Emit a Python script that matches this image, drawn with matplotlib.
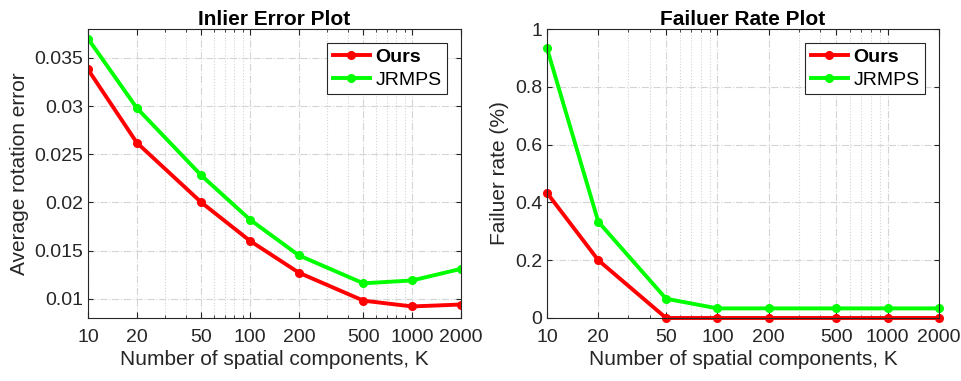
import matplotlib.pyplot as plt
from matplotlib.ticker import FixedLocator, NullFormatter, LogLocator

plt.rcParams['font.family'] = ['Liberation Sans', 'DejaVu Sans']

# data
K = [10, 20, 50, 100, 200, 500, 1000, 2000]
k_labels = ['10', '20', '50', '100', '200', '500', '1000', '2000']

err_ours = [0.0338, 0.0262, 0.0200, 0.0160, 0.0127, 0.0098, 0.0092, 0.0094]
err_jrmps = [0.0370, 0.0298, 0.0228, 0.0182, 0.0145, 0.0116, 0.0119, 0.0131]

fail_ours = [0.433, 0.200, 0.0, 0.0, 0.0, 0.0, 0.0, 0.0]
fail_jrmps = [0.933, 0.333, 0.0667, 0.0333, 0.0333, 0.0333, 0.0333, 0.0333]

red = '#ff0000'
green = '#00ff00'
txt = '#262626'

fig = plt.figure(figsize=(9.61, 3.81), dpi=100)
ax1 = fig.add_axes([88/961, 1 - 318/381, (461-88)/961, (318-29)/381])
ax2 = fig.add_axes([547/961, 1 - 318/381, (939-547)/961, (318-29)/381])


def style(ax, ylab, title):
    ax.set_xscale('log')
    ax.set_xlim(10, 2000)
    ax.xaxis.set_major_locator(FixedLocator(K))
    ax.set_xticklabels(k_labels)
    ax.xaxis.set_minor_locator(LogLocator(base=10, subs=range(2, 10)))
    ax.xaxis.set_minor_formatter(NullFormatter())
    ax.grid(True, which='major', color='#d4d4d4', linestyle='-.', linewidth=0.8)
    ax.grid(True, which='minor', axis='x', color='#d4d4d4', linestyle=':', linewidth=0.8)
    ax.set_axisbelow(True)
    ax.tick_params(which='both', direction='in', top=True, right=True,
                   labelsize=14, colors=txt, labelcolor=txt)
    ax.tick_params(axis='x', which='major', pad=8, length=4)
    ax.tick_params(axis='x', which='minor', length=2)
    for s in ax.spines.values():
        s.set_color(txt)
        s.set_linewidth(0.8)
    ax.set_xlabel('Number of spatial components, K', fontsize=15, color=txt, labelpad=3)
    ax.set_ylabel(ylab, fontsize=15, color=txt, labelpad=4)
    ax.set_title(title, fontsize=15, fontweight='bold', pad=3)


ax1.plot(K, err_ours, '-o', color=red, lw=2.8, ms=5.5, label='Ours')
ax1.plot(K, err_jrmps, '-o', color=green, lw=2.8, ms=5.5, label='JRMPS')
ax1.set_ylim(0.008, 0.038)
ax1.set_yticks([0.01, 0.015, 0.02, 0.025, 0.03, 0.035])
ax1.set_yticklabels(['0.01', '0.015', '0.02', '0.025', '0.03', '0.035'])
style(ax1, 'Average rotation error', 'Inlier Error Plot')

ax2.plot(K, fail_ours, '-o', color=red, lw=2.8, ms=5.5, label='Ours', clip_on=False)
ax2.plot(K, fail_jrmps, '-o', color=green, lw=2.8, ms=5.5, label='JRMPS', clip_on=False)
ax2.set_ylim(0, 1)
ax2.set_yticks([0, 0.2, 0.4, 0.6, 0.8, 1])
ax2.set_yticklabels(['0', '0.2', '0.4', '0.6', '0.8', '1'])
style(ax2, 'Failuer rate (%)', 'Failuer Rate Plot')

for ax in (ax1, ax2):
    leg = ax.legend(loc='upper right', fontsize=14, fancybox=False, framealpha=1,
                    edgecolor=txt, handlelength=1.9, borderaxespad=0.7,
                    borderpad=0.3, labelspacing=0.25, handletextpad=0.3)
    leg.get_frame().set_linewidth(0.8)
    leg.get_texts()[0].set_fontweight('bold')

fig.savefig('out.png', dpi=100)
